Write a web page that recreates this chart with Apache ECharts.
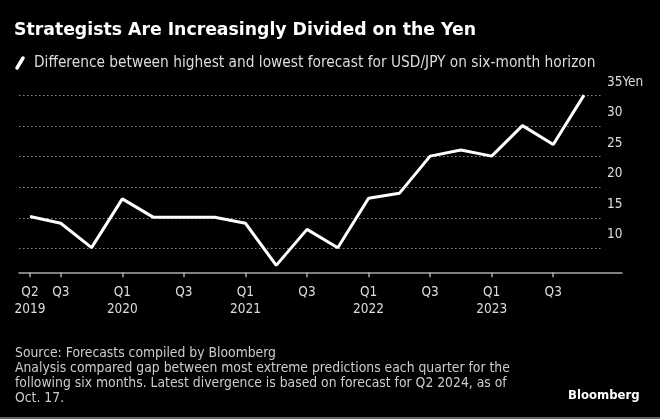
<!DOCTYPE html>
<html>
<head>
<meta charset="utf-8">
<script src="https://cdn.jsdelivr.net/npm/echarts@6/dist/echarts.min.js"></script>
<style>
html,body{margin:0;padding:0;background:#000;}
#chart{width:660px;height:419px;}
</style>
</head>
<body>
<div id="chart"></div>
<script>
// Data
var quarters = ['Q2 2019','Q3 2019','Q4 2019','Q1 2020','Q2 2020','Q3 2020','Q4 2020','Q1 2021','Q2 2021','Q3 2021','Q4 2021','Q1 2022','Q2 2022','Q3 2022','Q4 2022','Q1 2023','Q2 2023','Q3 2023','Q4 2023'];
var gapYen = [15.2, 14.1, 10.1, 18.1, 15.1, 15.1, 15.1, 14.1, 7.2, 13.1, 10.1, 18.2, 19.0, 25.1, 26.1, 25.1, 30.1, 27.0, 35.1];
var xTickIndex = [0, 1, 3, 5, 7, 9, 11, 13, 15, 17];

var titleText = 'Strategists Are Increasingly Divided on the Yen';
var subtitleText = 'Difference between highest and lowest forecast for USD/JPY on six-month horizon';
var footerLines = [
  'Source: Forecasts compiled by Bloomberg',
  'Analysis compared gap between most extreme predictions each quarter for the',
  'following six months. Latest divergence is based on forecast for Q2 2024, as of',
  'Oct. 17.'
];

var seriesData = gapYen.map(function (v, i) { return [i, v]; });

function xLabel(v) {
  var q = quarters[Math.round(v)] || '';
  var parts = q.split(' ');
  if (parts[0] === 'Q1' || Math.round(v) === 0) return parts[0] + '\n' + parts[1];
  return parts[0];
}

var chart = echarts.init(document.getElementById('chart'), null, {renderer: 'canvas'});
var cond = 'DejaVu Sans Condensed';

function txt(x, y, t, fill, size, weight, family) {
  return {type: 'text', x: x, y: y, style: {text: t, fill: fill, fontSize: size, fontWeight: weight, fontFamily: family, verticalAlign: 'middle'}};
}

var graphics = [
  txt(14, 31, titleText, '#ffffff', 17.3, 'bold', 'DejaVu Sans'),
  {type: 'line', shape: {x1: 17, y1: 68, x2: 23, y2: 58}, style: {stroke: '#ffffff', lineWidth: 3.5, lineCap: 'round'}},
  txt(34, 63, subtitleText, '#dddddd', 15.3, 'normal', cond),
  txt(568, 396, 'Bloomberg', '#ffffff', 13, 'bold', cond),
  {type: 'rect', shape: {x: 0, y: 417, width: 660, height: 2}, style: {fill: '#666666'}}
];
footerLines.forEach(function (t, i) {
  graphics.push(txt(15, 353 + i * 15, t, '#cccccc', 13.8, 'normal', cond));
});

var option = {
  backgroundColor: '#000000',
  animation: false,
  graphic: graphics,
  grid: [
    {left: 19, top: 95.7, width: 584, height: 183.1},
    {left: 19, top: 95.7, width: 603, height: 176.6}
  ],
  xAxis: [
    {type: 'value', gridIndex: 0, min: -0.357, max: 18.617, show: false},
    {type: 'value', gridIndex: 1, min: -0.357, max: 19.234,
      axisLine: {show: true, lineStyle: {color: '#aaaaaa', width: 1.5}},
      axisTick: {show: true, length: 5, customValues: xTickIndex, lineStyle: {color: '#aaaaaa', width: 1.5}},
      splitLine: {show: false},
      axisLabel: {customValues: xTickIndex, formatter: xLabel, color: '#dddddd', fontSize: 13.5, fontFamily: cond, lineHeight: 17, margin: 12}
    }
  ],
  yAxis: [
    {type: 'value', gridIndex: 0, min: 5, max: 35, interval: 5, position: 'right',
      axisLine: {show: false}, axisTick: {show: false},
      splitLine: {show: true, showMinLine: false, lineStyle: {color: '#8a8a8a', type: [1.5, 2.5], width: 1}},
      axisLabel: {show: true, showMinLabel: false, align: 'left', margin: 4, verticalAlign: 'bottom', lineHeight: 27,
        color: '#dddddd', fontSize: 13.5, fontFamily: cond,
        formatter: function (v) { return v === 35 ? '35Yen' : String(v); }}
    },
    {type: 'value', gridIndex: 1, min: 0, max: 1, show: false}
  ],
  series: [
    {type: 'line', xAxisIndex: 0, yAxisIndex: 0, data: seriesData, showSymbol: false, symbol: 'none',
      lineStyle: {color: '#ffffff', width: 3}, silent: true}
  ]
};
chart.setOption(option);
</script>
</body>
</html>
